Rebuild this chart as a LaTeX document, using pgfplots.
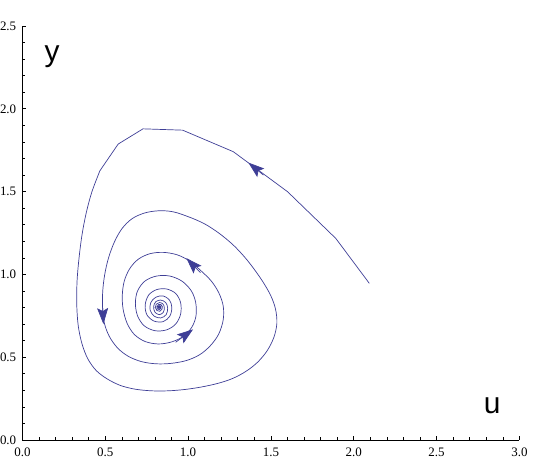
\documentclass[border=0pt]{standalone}
\usepackage{fontspec}
\setmainfont{Liberation Serif}
\newfontfamily\labelfont{Liberation Sans}
\usepackage{pgfplots}
\pgfplotsset{compat=1.18}
\usetikzlibrary{arrows.meta}
\definecolor{traj}{RGB}{62,62,150}
\begin{document}
\begin{tikzpicture}
\begin{axis}[
 scale only axis, width=497bp, height=414bp,
 xmin=0,xmax=3,ymin=0,ymax=2.5,
 axis lines=left, axis line style={-, line width=0.8bp, black},
 xtick={0,0.5,1,1.5,2,2.5,3}, ytick={0,0.5,1,1.5,2,2.5},
 minor tick num=4,
 tick align=inside,
 major tick length=4bp, minor tick length=2.7bp,
 every tick/.style={black, line width=0.6bp},
 tick label style={font=\fontsize{13}{13}\selectfont},
 /pgf/number format/fixed, /pgf/number format/fixed zerofill,
 /pgf/number format/precision=1, /pgf/number format/assume math mode=true,
 xticklabel style={anchor=north, inner sep=0pt, yshift=-8bp},
 yticklabel style={anchor=east, inner sep=0pt, xshift=-6bp},
 clip=false,
]
\coordinate (O) at (rel axis cs:0,0);
% outer, sampled part (polyline as in the reference)
\addplot[traj, line width=0.7bp, line join=round] coordinates {
(2.094,0.946) (1.892,1.217) (1.601,1.499) (1.273,1.741) (0.967,1.871)
(0.728,1.879) (0.578,1.787) (0.468,1.626)
};
% rest of the spiral
\addplot[traj, line width=0.7bp, smooth, tension=0.55] coordinates {
(0.468,1.626) (0.420,1.50) (0.385,1.37) (0.360,1.24) (0.342,1.10) (0.330,0.96)
(0.328,0.82) (0.337,0.69) (0.360,0.58) (0.395,0.49) (0.445,0.42) (0.510,0.37)
(0.590,0.33) (0.680,0.307) (0.780,0.297) (0.880,0.297) (0.980,0.305) (1.080,0.320)
(1.180,0.342) (1.270,0.372) (1.350,0.415) (1.420,0.470) (1.478,0.540) (1.518,0.620)
(1.536,0.704) (1.528,0.790) (1.500,0.870) (1.455,0.950) (1.400,1.030) (1.341,1.105)
(1.270,1.180) (1.185,1.250) (1.100,1.305) (1.010,1.345) (0.910,1.378) (0.820,1.384)
(0.735,1.370) (0.660,1.335) (0.600,1.275) (0.555,1.195) (0.520,1.100) (0.497,1.000)
(0.485,0.900) (0.484,0.803) (0.495,0.705) (0.525,0.625) (0.575,0.555) (0.640,0.505)
(0.720,0.473) (0.810,0.460) (0.900,0.463) (0.990,0.480) (1.070,0.515) (1.135,0.570)
(1.185,0.640) (1.212,0.725) (1.212,0.810) (1.185,0.890) (1.140,0.960) (1.080,1.020)
(1.010,1.080) (0.935,1.118) (0.850,1.133) (0.770,1.125) (0.700,1.092) (0.648,1.035)
(0.615,0.960) (0.603,0.875) (0.608,0.790) (0.632,0.705) (0.675,0.638) (0.740,0.595)
(0.820,0.580) (0.900,0.592) (0.970,0.625) (1.022,0.680) (1.048,0.750) (1.046,0.830)
(1.020,0.900) (0.965,0.958) (0.890,0.990) (0.810,0.990) (0.740,0.960) (0.695,0.900)
(0.682,0.825) (0.695,0.750) (0.735,0.690) (0.800,0.660) (0.870,0.665) (0.925,0.700)
(0.955,0.760) (0.955,0.830) (0.925,0.885) (0.870,0.912) (0.810,0.908) (0.762,0.875)
(0.741,0.815) (0.752,0.755) (0.795,0.718) (0.850,0.715) (0.890,0.748) (0.902,0.800)
(0.888,0.845) (0.850,0.870) (0.805,0.862) (0.775,0.830) (0.771,0.785) (0.795,0.748)
(0.835,0.737) (0.868,0.757) (0.877,0.797) (0.865,0.830) (0.835,0.845) (0.805,0.835)
(0.792,0.805) (0.800,0.772) (0.826,0.757) (0.850,0.770) (0.857,0.798) (0.848,0.822)
(0.827,0.830) (0.808,0.820) (0.802,0.800) (0.812,0.782) (0.830,0.777) (0.843,0.790)
(0.845,0.806) (0.836,0.818) (0.822,0.818) (0.812,0.806) (0.814,0.792) (0.826,0.787)
(0.836,0.796) (0.835,0.808) (0.826,0.812) (0.818,0.804) (0.822,0.795) (0.830,0.798)
(0.829,0.805) (0.824,0.803) (0.826,0.799)
};
\addplot[traj, line width=0.7bp, -{Stealth[length=16bp,width=11bp,inset=3bp]}] coordinates {(1.455,1.600) (1.364,1.675)};
\addplot[traj, line width=0.7bp, -{Stealth[length=16bp,width=11bp,inset=3bp]}] coordinates {(0.484,0.805) (0.489,0.700)};
\addplot[traj, line width=0.7bp, -{Stealth[length=16bp,width=11bp,inset=3bp]}] coordinates {(1.075,1.010) (0.990,1.098)};
\addplot[traj, line width=0.7bp, -{Stealth[length=16bp,width=11bp,inset=3bp]}] coordinates {(0.925,0.590) (1.030,0.668)};
\node[font=\labelfont\fontsize{30}{30}\selectfont, anchor=base, inner sep=0pt] at (axis cs:0.179,2.284) {y};
\node[font=\labelfont\fontsize{30}{30}\selectfont, anchor=base, inner sep=0pt] at (axis cs:2.836,0.161) {u};
\end{axis}
\pgfresetboundingbox
\path[use as bounding box] (O) ++(-22.4bp,-22bp) rectangle ++(540bp,462bp);
\end{tikzpicture}
\end{document}
